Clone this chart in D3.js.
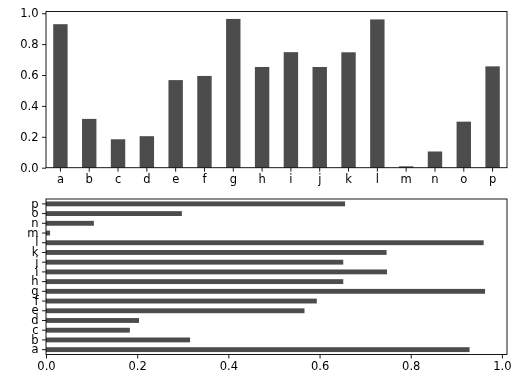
<!DOCTYPE html>
<html>
<head>
<meta charset="utf-8">
<script src="https://cdn.jsdelivr.net/npm/d3@7"></script>
<style>
  body { margin: 0; background: #fff; }
  svg { will-change: transform; }
  svg text { font-family: "DejaVu Sans", sans-serif; font-size: 11.5px; fill: #000; }
</style>
</head>
<body>
<svg id="chart" width="518" height="386"></svg>
<script>
// Data
var categories = ["a", "b", "c", "d", "e", "f", "g", "h", "i", "j", "k", "l", "m", "n", "o", "p"];
var values = [0.929, 0.316, 0.184, 0.204, 0.567, 0.594, 0.963, 0.652, 0.748, 0.652, 0.747, 0.960, 0.009, 0.105, 0.298, 0.656];
var valueTicks = [0, 0.2, 0.4, 0.6, 0.8, 1.0];

var svg = d3.select("#chart");
var fmt = d3.format(".1f");
var vMax = d3.max(values) * 1.05;

// Shared box
var left = 46, right = 507;

// Top panel: vertical bars
var top1 = 11.5, bot1 = 167.7;

var x1 = d3.scaleBand()
  .domain(categories)
  .range([left, right])
  .paddingInner(0.5)
  .paddingOuter(0.25)
  ;

var y1 = d3.scaleLinear()
  .domain([0, vMax])
  .range([bot1, top1])
  ;

var g1 = svg.append("g").attr("class", "panel-top");

g1.selectAll("rect.bar")
  .data(values)
  .enter().append("rect")
    .attr("class", "bar")
    .attr("x", function(d, i) { return x1(categories[i]); })
    .attr("width", x1.bandwidth())
    .attr("y", function(d) { return y1(d); })
    .attr("height", function(d) { return y1(0) - y1(d); })
    .style("fill", "#000")
    .style("fill-opacity", 0.7)
    ;

g1.append("rect")
  .attr("x", left)
  .attr("y", top1)
  .attr("width", right - left)
  .attr("height", bot1 - top1)
  .style("fill", "none")
  .style("stroke", "#000")
  .style("stroke-width", 0.9)
  ;

g1.append("g")
  .attr("transform", "translate(0," + bot1 + ")")
  .call(d3.axisBottom(x1).tickSize(4).tickPadding(3.5))
  ;

g1.append("g")
  .attr("transform", "translate(" + left + ",0)")
  .call(d3.axisLeft(y1).tickValues(valueTicks).tickFormat(fmt).tickSize(4).tickPadding(3.5))
  ;

// Bottom panel: horizontal bars
var top2 = 199, bot2 = 354.5;

var y2 = d3.scaleBand()
  .domain(categories)
  .range([bot2, top2])
  .paddingInner(0.5)
  .paddingOuter(0.25)
  ;

var x2 = d3.scaleLinear()
  .domain([0, vMax])
  .range([left, right])
  ;

var g2 = svg.append("g").attr("class", "panel-bottom");

g2.selectAll("rect.bar")
  .data(values)
  .enter().append("rect")
    .attr("class", "bar")
    .attr("x", x2(0))
    .attr("width", function(d) { return x2(d) - x2(0); })
    .attr("y", function(d, i) { return y2(categories[i]); })
    .attr("height", y2.bandwidth())
    .style("fill", "#000")
    .style("fill-opacity", 0.7)
    ;

g2.append("rect")
  .attr("x", left)
  .attr("y", top2)
  .attr("width", right - left)
  .attr("height", bot2 - top2)
  .style("fill", "none")
  .style("stroke", "#000")
  .style("stroke-width", 0.9)
  ;

g2.append("g")
  .attr("transform", "translate(0," + bot2 + ")")
  .call(d3.axisBottom(x2).tickValues(valueTicks).tickFormat(fmt).tickSize(4).tickPadding(3.5))
  ;

g2.append("g")
  .attr("transform", "translate(" + left + ",0)")
  .call(d3.axisLeft(y2).tickSize(4).tickPadding(3.5))
  ;

// Axis styling, matplotlib-like
svg.selectAll(".domain").remove();
svg.selectAll(".tick line").style("stroke", "#000").style("stroke-width", 0.9);
svg.selectAll(".tick text").style("font-family", "DejaVu Sans, sans-serif").style("font-size", "11.5px").style("fill", "#000");
</script>
</body>
</html>
